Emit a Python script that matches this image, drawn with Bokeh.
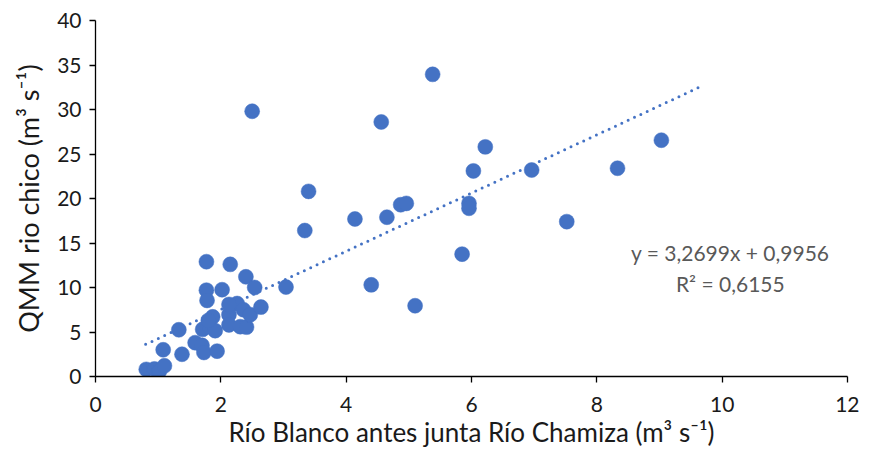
from bokeh.plotting import figure
from bokeh.models import Range1d, FixedTicker, Label
from bokeh.embed import file_html
from bokeh.resources import INLINE

# Río Blanco antes junta Río Chamiza (m3 s-1)
x_vals = [0.81, 0.94, 1.02, 1.10, 1.08, 1.33, 1.38, 1.59, 1.70, 1.71, 1.73, 1.77,
          1.77, 1.78, 1.82, 1.87, 1.91, 1.94, 2.02, 2.13, 2.13, 2.15, 2.15, 2.26,
          2.36, 2.31, 2.41, 2.40, 2.47, 2.50, 2.54, 2.64, 3.04, 3.34, 3.40, 4.14,
          4.40, 4.56, 4.65, 4.87, 4.96, 5.10, 5.38, 5.85, 5.96, 5.96, 6.03, 6.22,
          6.96, 7.52, 8.33, 9.03, 2.13, 1.80]
# QMM rio chico (m3 s-1)
y_vals = [0.80, 0.85, 0.60, 1.20, 3.00, 5.25, 2.50, 3.80, 3.50, 5.30, 2.70, 12.9,
          9.70, 8.55, 5.60, 6.70, 5.15, 2.85, 9.75, 6.95, 5.80, 7.95, 12.6, 8.20,
          7.50, 5.60, 5.55, 11.2, 6.95, 29.8, 10.0, 7.80, 10.05, 16.4, 20.8, 17.7,
          10.3, 28.6, 17.9, 19.3, 19.45, 7.95, 33.95, 13.75, 19.45, 18.9, 23.1, 25.8,
          23.2, 17.4, 23.4, 26.55, 8.10, 6.30]

# trendline (as reported on chart)
slope = 3.2699
intercept = 0.9956
trend_x = [0.80, 9.70]
trend_y = [slope * v + intercept for v in trend_x]
eq_text = "y = 3,2699x + 0,9956"
r2_text = "R² = 0,6155"

x_ticks = [0, 2, 4, 6, 8, 10, 12]
y_ticks = [0, 5, 10, 15, 20, 25, 30, 35, 40]

FONT = "Lato"
GREY = "#595959"
DARK = "#1a1a1a"
BLUE = "#4472C4"

p = figure(width=859, height=450, output_backend="svg", toolbar_location=None,
           x_range=Range1d(0, 12), y_range=Range1d(0, 40),
           min_border_left=95, min_border_right=12, min_border_top=20,
           min_border_bottom=73)
p.outline_line_color = None
p.grid.visible = False
p.background_fill_color = "white"
p.border_fill_color = "white"

p.line(trend_x, trend_y, line_color=BLUE, line_width=3, line_dash="0 7",
       line_cap="round")
p.scatter(x_vals, y_vals, size=15, fill_color=BLUE, line_color=BLUE,
          line_width=0.5)

for ax in (p.xaxis[0], p.yaxis[0]):
    ax.axis_line_color = "black"
    ax.axis_line_width = 1.3
    ax.major_tick_line_color = "black"
    ax.major_tick_line_width = 1.3
    ax.major_tick_out = 6
    ax.major_tick_in = 0
    ax.minor_tick_line_color = None
    ax.major_label_text_font = FONT
    ax.major_label_text_font_size = "21px"
    ax.major_label_text_color = DARK
    ax.axis_label_text_font = FONT
    ax.axis_label_text_font_style = "normal"
    ax.axis_label_text_color = DARK

p.xaxis[0].axis_label_text_font_size = "26px"
p.yaxis[0].axis_label_text_font_size = "27px"
p.xaxis[0].ticker = FixedTicker(ticks=x_ticks)
p.yaxis[0].ticker = FixedTicker(ticks=y_ticks)
p.xaxis[0].axis_label = "Río Blanco antes junta Río Chamiza (m³ s⁻¹)"
p.yaxis[0].axis_label = "QMM rio chico (m³ s⁻¹)"
p.xaxis[0].major_label_standoff = 14
p.yaxis[0].major_label_standoff = 8
p.xaxis[0].axis_label_standoff = 1
p.yaxis[0].axis_label_standoff = 9

p.add_layout(Label(x=10.13, y=13.9, text=eq_text, text_align="center",
                   text_baseline="middle", text_font=FONT,
                   text_font_size="21px", text_color=GREY))
p.add_layout(Label(x=10.13, y=10.5, text=r2_text, text_align="center",
                   text_baseline="middle", text_font=FONT,
                   text_font_size="21px", text_color=GREY))

open("out.html", "w").write(file_html(p, INLINE))
